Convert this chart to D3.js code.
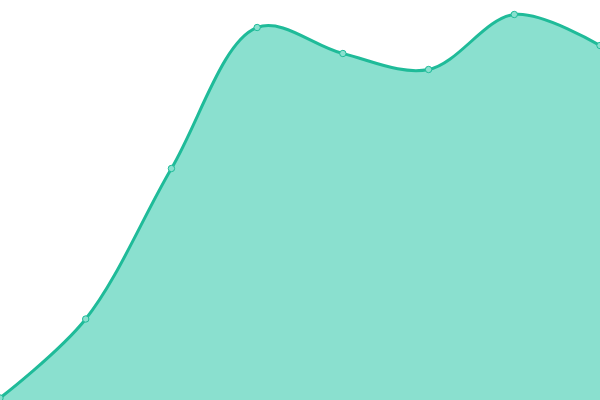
<!DOCTYPE html>
<html><head><meta charset="utf-8">
<script src="https://cdn.jsdelivr.net/npm/d3@7"></script>
<style>html,body{margin:0;padding:0;background:#fff;overflow:hidden}</style>
</head><body>
<svg id="c" width="600" height="400"></svg>
<script>
const categories = ["A","B","C","D","E","F","G","H"];
const values = [2, 81, 231.5, 372.5, 346.5, 330.5, 385.5, 354.5];

const W = 600, H = 400;
const svg = d3.select("#c");
const x = d3.scalePoint().domain(categories).range([0, W]);
const y = d3.scaleLinear().domain([0, 400]).range([H, 0]);
const data = categories.map((c, i) => ({c, v: values[i]}));
const curve = d3.curveCatmullRom.alpha(0.5);

svg.append("path").datum(data)
  .attr("d", d3.area().x(d => x(d.c)).y0(y(0)).y1(d => y(d.v)).curve(curve))
  .attr("fill", "#8ae0cf");
svg.append("path").datum(data)
  .attr("d", d3.line().x(d => x(d.c)).y(d => y(d.v)).curve(curve))
  .attr("fill", "none").attr("stroke", "#1fbb99").attr("stroke-width", 3);
svg.selectAll("circle").data(data).join("circle")
  .attr("cx", d => x(d.c)).attr("cy", d => y(d.v)).attr("r", 3.2)
  .attr("fill", "#8ae0cf").attr("stroke", "#1fbb99").attr("stroke-width", 1);
</script>
</body></html>
